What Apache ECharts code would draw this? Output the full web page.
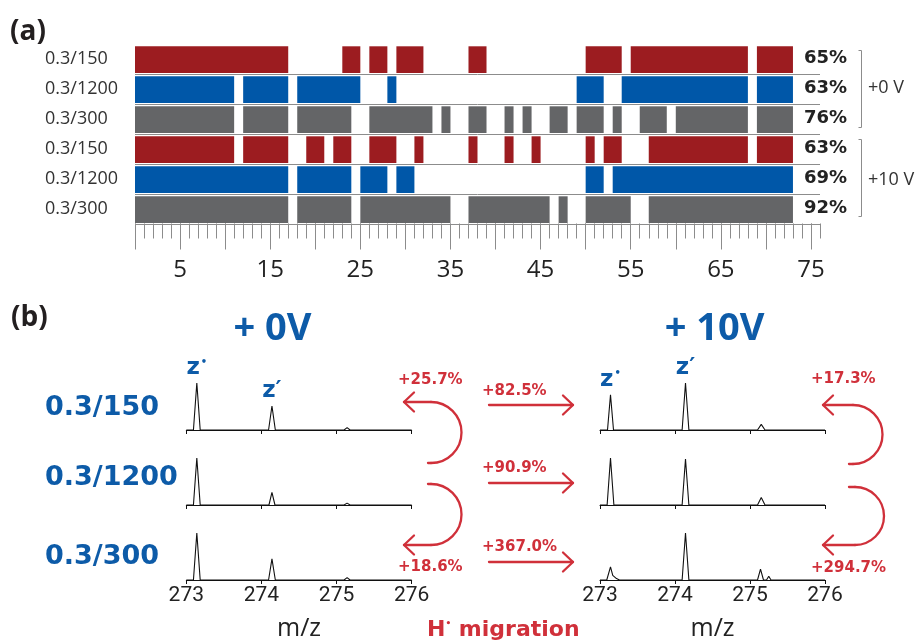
<!DOCTYPE html>
<html>
<head>
<meta charset="utf-8">
<title>Sequence coverage and H migration</title>
<script src="https://cdn.jsdelivr.net/npm/echarts@6.0.0/dist/echarts.min.js"></script>
<style>
  html, body { margin: 0; padding: 0; background: #fff; }
  #chart { width: 921px; height: 643px; }
</style>
</head>
<body>
<div id="chart"></div>
<script>
// ---- panel (a): sequence coverage, rows top to bottom ----
const rowLabels = ["0.3/150", "0.3/1200", "0.3/300", "0.3/150", "0.3/1200", "0.3/300"];
const coverageLabels = ["65%", "63%", "76%", "63%", "69%", "92%"];
const voltageGroups = ["+0 V", "+10 V"];

// covered stretches [from, to] along the sequence
const cov0V150 = [[0, 17], [23, 25], [26, 28], [29, 32], [37, 39], [50, 54], [55, 68], [69, 73]];
const cov0V1200 = [[0, 11], [12, 17], [18, 25], [28, 29], [49, 52], [54, 68], [69, 73]];
const cov0V300 = [[0, 11], [12, 17], [18, 24], [26, 33], [34, 35], [37, 39], [41, 42], [43, 44], [46, 48], [49, 52], [53, 54], [56, 59], [60, 68], [69, 73]];
const cov10V150 = [[0, 11], [12, 17], [19, 21], [22, 24], [26, 29], [31, 32], [37, 38], [41, 42], [44, 45], [50, 51], [52, 54], [57, 68], [69, 73]];
const cov10V1200 = [[0, 17], [18, 24], [25, 28], [29, 31], [50, 52], [53, 73]];
const cov10V300 = [[0, 17], [18, 24], [25, 35], [37, 46], [47, 48], [50, 55], [57, 73]];

const seqMin = 0;
const seqMax = 76;
const seqMajorTicks = [0, 5, 10, 15, 20, 25, 30, 35, 40, 45, 50, 55, 60, 65, 70, 75];
const seqTickLabels = [5, 15, 25, 35, 45, 55, 65, 75];

// ---- panel (b): spectra, [m/z, relative intensity] ----
const specRowLabels = ["0.3/150", "0.3/1200", "0.3/300"];
const specTitles = ["+ 0V", "+ 10V"];
const mzMin = 273;
const mzMax = 276;

const spec0V = [
  [[273, 0], [273.095, 0], [273.14, 100], [273.185, 0], [274.095, 0], [274.14, 51], [274.185, 0], [275.1, 0], [275.14, 5], [275.18, 0], [276, 0]],
  [[273, 0], [273.095, 0], [273.14, 100], [273.185, 0], [274.1, 0], [274.14, 27], [274.18, 0], [275.1, 0], [275.14, 4], [275.18, 0], [276, 0]],
  [[273, 0], [273.095, 0], [273.14, 100], [273.185, 0], [274.095, 0], [274.14, 45], [274.185, 0], [275.1, 0], [275.14, 5], [275.18, 0], [276, 0]]
];
const spec10V = [
  [[273, 0], [273.1, 0], [273.14, 75], [273.18, 0], [274.095, 0], [274.14, 100], [274.185, 0], [275.1, 0], [275.15, 12], [275.2, 0], [276, 0]],
  [[273, 0], [273.095, 0], [273.14, 100], [273.185, 0], [273.5, 0], [273.52, 2], [273.54, 0], [274.095, 0], [274.14, 98], [274.185, 0], [275.1, 0], [275.15, 16], [275.2, 0], [276, 0]],
  [[273, 0], [273.09, 0], [273.14, 28], [273.17, 10], [273.22, 3], [273.26, 0], [274.095, 0], [274.14, 100], [274.185, 0], [275.1, 0], [275.14, 23], [275.18, 0], [275.22, 0], [275.25, 8], [275.28, 0], [276, 0]]
];
const zPeakMz = [273.14, 274.14];
const zPeakNames = ["{z|z}{d|•}", "{z|z′}"];

const flipLabels0V = ["+25.7%", "+18.6%"];
const flipLabels10V = ["+17.3%", "+294.7%"];
const crossLabels = ["+82.5%", "+90.9%", "+367.0%"];

// ---- styles ----
const RED = "#9c1c20", BLUE = "#0057a8", GRAY = "#646567";
const rowColors = [RED, BLUE, GRAY, RED, BLUE, GRAY];
const TITLE_BLUE = "#0d5ba8";
const ARROW_RED = "#d0303a";
const LINE_GRAY = "#8c8c8c";

const chart = echarts.init(document.getElementById("chart"));

const rowCoverage = [cov0V150, cov0V1200, cov0V300, cov10V150, cov10V1200, cov10V300];
const segData = [];
rowCoverage.forEach((segs, r) => segs.forEach((s) => segData.push([r, s[0], s[1]])));

function renderSegment(params, api) {
  const row = api.value(0);
  const a = api.coord([api.value(1), row]);
  const b = api.coord([api.value(2), row]);
  const band = Math.abs(api.size([0, 1])[1]);
  return {
    type: "rect",
    shape: { x: a[0], y: a[1] - band / 2 + 2.8, width: b[0] - a[0], height: band - 3.3 },
    style: { fill: rowColors[row] },
  };
}

function renderRowLine(params, api) {
  const row = api.value(0);
  const a = api.coord([api.value(1), row]);
  const b = api.coord([api.value(2), row]);
  const band = Math.abs(api.size([0, 1])[1]);
  const y = Math.round(a[1] + band / 2) + 0.5;
  return {
    type: "line",
    shape: { x1: a[0], y1: y, x2: b[0], y2: y },
    style: { stroke: LINE_GRAY, lineWidth: 1 },
  };
}

// spectra grid layout
const specLeft = [186.3, 600];
const specWidth = [225.4, 225];
const specBase = [430, 505, 580];
const specH = 47;

const grids = [{ left: 135, top: 43.5, width: 685, height: 180 }];
const xAxes = [
  {
    gridIndex: 0, type: "value", min: seqMin, max: seqMax, position: "bottom",
    axisLine: { show: false },
    axisTick: { show: true, customValues: seqMajorTicks, length: 26, lineStyle: { color: LINE_GRAY } },
    axisLabel: {
      customValues: seqTickLabels, fontFamily: "Open Sans", fontSize: 24, color: "#222", margin: 35,
    },
    splitLine: { show: false },
  },
  {
    gridIndex: 0, type: "value", min: seqMin, max: seqMax, interval: 1, position: "bottom",
    axisLine: { show: false },
    axisTick: { show: true, length: 15, lineStyle: { color: LINE_GRAY } },
    axisLabel: { show: false },
    splitLine: { show: false },
  },
];
const yAxes = [
  {
    gridIndex: 0, type: "category", data: rowLabels, inverse: true,
    axisLine: { show: false }, axisTick: { show: false },
    axisLabel: { align: "left", margin: 90, fontFamily: "Open Sans", fontSize: 18, color: "#333", padding: [5, 0, 0, 0] },
  },
  {
    gridIndex: 0, type: "category", data: coverageLabels, inverse: true, position: "right", offset: -16,
    axisLine: { show: false }, axisTick: { show: false },
    axisLabel: { align: "left", margin: 0, fontFamily: "DejaVu Sans", fontWeight: "bold", fontSize: 18, color: "#222" },
  },
];
const series = [
  {
    type: "custom", xAxisIndex: 0, yAxisIndex: 0,
    data: rowLabels.map((_, r) => [r, seqMin, seqMax]),
    encode: { x: [1, 2], y: 0 },
    renderItem: renderRowLine, silent: true, z: 1,
  },
  {
    type: "custom", xAxisIndex: 0, yAxisIndex: 0,
    data: segData, encode: { x: [1, 2], y: 0 },
    renderItem: renderSegment, z: 2,
  },
];

[spec0V, spec10V].forEach((col, c) => {
  col.forEach((spec, r) => {
    const g = grids.length;
    const xi = xAxes.length;
    const yi = yAxes.length;
    const bottom = r === col.length - 1;
    grids.push({ left: specLeft[c], top: specBase[r] - specH, width: specWidth[c], height: specH });
    xAxes.push({
      gridIndex: g, type: "value", min: mzMin, max: mzMax, interval: 1,
      axisLine: { show: true, lineStyle: { color: "#111", width: 1 } },
      axisTick: { show: true, length: 4, lineStyle: { color: "#111" } },
      axisLabel: { show: bottom, fontFamily: "Roboto", fontSize: 21, color: "#222", margin: 5 },
      splitLine: { show: false },
      name: bottom ? "m/z" : "",
      nameLocation: "middle", nameGap: 36,
      nameTextStyle: { fontFamily: "Open Sans", fontSize: 25, color: "#222" },
    });
    yAxes.push({ gridIndex: g, type: "value", min: 0, max: 100, show: false });
    series.push({
      type: "line", xAxisIndex: xi, yAxisIndex: yi, data: spec,
      showSymbol: false, silent: true, z: 3,
      lineStyle: { color: "#111", width: 1.1 },
    });
    if (r === 0) {
      series.push({
        type: "scatter", xAxisIndex: xi, yAxisIndex: yi, symbolSize: 0, silent: true,
        itemStyle: { opacity: 1 },
        data: zPeakMz.map((mz, k) => ({
          value: spec.find((p) => p[0] === mz),
          label: { formatter: zPeakNames[k] },
        })),
        label: {
          show: true, position: "top", distance: 3,
          rich: {
            z: { fontFamily: "DejaVu Sans", fontWeight: "bold", fontSize: 23, color: TITLE_BLUE },
            d: { fontFamily: "DejaVu Sans", fontWeight: "bold", fontSize: 10, color: TITLE_BLUE, verticalAlign: "top", padding: [0, 0, 10, 1] },
          },
        },
      });
    }
  });
});

function text(str, x, y, size, opt) {
  return {
    type: "text", x: x, y: y, z: 10,
    style: Object.assign({
      text: str, fontSize: size, fontFamily: "Open Sans", fill: "#222",
      align: "left", verticalAlign: "middle",
    }, opt || {}),
  };
}
function stroke() {
  return { stroke: ARROW_RED, lineWidth: 2.3, fill: null, lineCap: "round", lineJoin: "round" };
}
function poly(points) {
  return { type: "polyline", z: 10, shape: { points: points }, style: stroke() };
}
// right-bulging half circle
function halfArc(cx, cy, r) {
  return { type: "arc", z: 10, shape: { cx: cx, cy: cy, r: r, startAngle: -Math.PI / 2, endAngle: Math.PI / 2, clockwise: true }, style: stroke() };
}
function headLeft(x, y) {
  return poly([[x + 10, y - 9.5], [x, y], [x + 10, y + 9.5]]);
}
function headRight(x, y) {
  return poly([[x - 10, y - 9.5], [x, y], [x - 10, y + 9.5]]);
}

const redBold = { fontFamily: "DejaVu Sans", fontWeight: "bold", fill: ARROW_RED };
const graphics = [
  text("(a)", 10, 32, 28, { fontWeight: "bold", fill: "#231f20" }),
  text("(b)", 11, 318, 28, { fontWeight: "bold", fill: "#231f20" }),
  // group brackets
  { type: "polyline", shape: { points: [[858.5, 50.5], [861.5, 50.5], [861.5, 127.5], [858.5, 127.5]] }, style: { stroke: LINE_GRAY, lineWidth: 1, fill: null } },
  { type: "polyline", shape: { points: [[858.5, 139.5], [861.5, 139.5], [861.5, 216.5], [858.5, 216.5]] }, style: { stroke: LINE_GRAY, lineWidth: 1, fill: null } },
  text(voltageGroups[0], 868, 88, 18, { fill: "#333" }),
  text(voltageGroups[1], 868, 180, 18, { fill: "#333" }),
  // spectra titles and row labels
  text(specTitles[0], 272.5, 329, 38, { fontWeight: "bold", fill: TITLE_BLUE, align: "center" }),
  text(specTitles[1], 714.5, 329, 38, { fontWeight: "bold", fill: TITLE_BLUE, align: "center" }),
];
specRowLabels.forEach((lab, r) => {
  graphics.push(text(lab, 45, [408, 478, 557][r], 27, { fontFamily: "DejaVu Sans", fontWeight: "bold", fill: TITLE_BLUE }));
});

// curved arrows (within a column) and straight arrows (between columns)
graphics.push(
  poly([[404, 402], [431, 402]]), halfArc(431, 432.5, 30.5), poly([[431, 463], [428, 463]]), headLeft(404, 402),
  poly([[428, 484], [431, 484]]), halfArc(431, 514.5, 30.5), poly([[431, 545], [404, 545]]), headLeft(404, 545),
  poly([[823, 405], [853, 405]]), halfArc(853, 434.5, 29.5), poly([[853, 464], [849, 464]]), headLeft(823, 405),
  poly([[849, 487], [855, 487]]), halfArc(855, 516, 29), poly([[855, 545], [823, 545]]), headLeft(823, 545),
  text(flipLabels0V[0], 398, 380, 15, redBold),
  text(flipLabels0V[1], 398, 567, 15, redBold),
  text(flipLabels10V[0], 811, 379, 15, redBold),
  text(flipLabels10V[1], 811, 568, 15, redBold)
);
[405, 483, 562].forEach((y, r) => {
  graphics.push(
    poly([[489, y], [573, y]]),
    headRight(573, y),
    text(crossLabels[r], 482, [391, 468, 547][r], 15, redBold)
  );
});
graphics.push({
  type: "text", x: 427, y: 630, z: 10,
  style: {
    text: "{h|H}{d|•}{h| migration}", align: "left", verticalAlign: "middle",
    rich: {
      h: { fontFamily: "DejaVu Sans", fontWeight: "bold", fontSize: 22, fill: ARROW_RED },
      d: { fontFamily: "DejaVu Sans", fontWeight: "bold", fontSize: 9, fill: ARROW_RED, verticalAlign: "top", padding: [0, 0, 10, 0] },
    },
  },
});

chart.setOption({
  animation: false,
  grid: grids,
  xAxis: xAxes,
  yAxis: yAxes,
  series: series,
  graphic: { elements: graphics },
});
</script>
</body>
</html>
